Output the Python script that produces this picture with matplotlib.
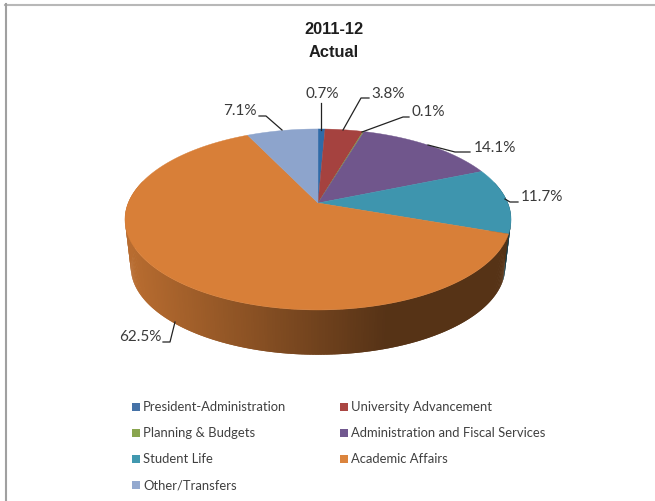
import numpy as np
import matplotlib
matplotlib.use("Agg")
import matplotlib.pyplot as plt
from matplotlib.colors import to_rgb

# categories and shares of the 2011-12 budget, clockwise from 12 o'clock
categories = ["President-Administration", "University Advancement", "Planning & Budgets",
              "Administration and Fiscal Services", "Student Life", "Academic Affairs",
              "Other/Transfers"]
shares = [0.7, 3.8, 0.1, 14.1, 11.7, 62.5, 7.1]
face_colors = ["#2F6BA8", "#A5423F", "#84A24A", "#70568C", "#3E95AE", "#D87F38", "#8DA4CC"]
legend_colors = ["#4572A7", "#AA4643", "#89A54E", "#71588F", "#4198AF", "#DB843D", "#93A9CF"]

# perspective disc: apex position, radii and foreshortening
CX, CY = 318, 203
RX, RY = 189.8, 87.5
K = -0.182
DROP, BOTTOM_SCALE = 48, 0.97

LABEL_FONT = ["Lato", "DejaVu Sans"]
TITLE_FONT = ["Liberation Sans", "DejaVu Sans"]


def rim(theta, scale=1.0, dy=0.0):
    u, v = np.sin(theta), -np.cos(theta)
    w = 1 + K * v
    return CX + scale * RX * u / w, CY + dy + scale * RY * v / w


def wall_shade(x):
    return np.interp(x, [130, 385], [0.85, 0.40])


fig = plt.figure(figsize=(6.55, 5.01), dpi=100)
ax = fig.add_axes([0, 0, 1, 1])
ax.set_xlim(0, 655)
ax.set_ylim(501, 0)
ax.axis("off")

# outer frame, only top and left edges show
ax.plot([5, 655], [4.5, 4.5], color="#B8B8B8", lw=1.5)
ax.plot([5.5, 5.5], [4, 501], color="#A0A0A0", lw=1.5)

edges = np.radians(np.cumsum([0] + shares) * 3.6)

# side wall in thin facets; each one runs under the next so no seams show
for i, color in enumerate(face_colors):
    base = np.array(to_rgb(color))
    step = np.radians(0.7)
    n = max(2, int((edges[i + 1] - edges[i]) / step))
    t = np.linspace(edges[i], edges[i + 1], n + 1)
    for a, b in zip(t[:-1], t[1:]):
        if np.cos((a + b) / 2) > 0.25:
            continue
        far = min(b + step, edges[i + 1])
        xa, ya = rim(a)
        xb, yb = rim(far)
        xc, yc = rim(far, BOTTOM_SCALE, DROP)
        xd, yd = rim(a, BOTTOM_SCALE, DROP)
        c = base * wall_shade((xa + xb) / 2)
        ax.fill([xa, xb, xc, xd], [ya, yb, yc, yd], color=c, lw=0, zorder=2)

# top face
for i, color in enumerate(face_colors):
    t = np.linspace(edges[i], edges[i + 1], max(3, int(shares[i] * 6)))
    x, y = rim(t)
    ax.fill(np.r_[CX, x], np.r_[CY, y], color=color, lw=0.3, zorder=3)

# value labels and leader lines
label_pos = [(322, 94, "center"), (371, 94, "left"), (411, 112, "left"), (474, 148, "left"),
             (521, 197, "left"), (257, 111, "right"), (161, 337, "right")]
leaders = [
    [(320.5, 103), (320.5, 130)],
    [(369, 98), (361, 98), (343, 130)],
    [(409, 117), (403, 117), (362, 132)],
    [(470, 152), (455, 152), (428, 145)],
    [(518, 202), (510, 202), (505, 199)],
    [(259, 116), (266, 116), (282, 130)],
    [(163, 342), (170, 342), (175, 322)],
]
order = [0, 1, 2, 3, 4, 6, 5]
for idx, (lx, ly, ha), line in zip(order, label_pos, leaders):
    ax.text(lx, ly, f"{shares[idx]}%", ha=ha, va="center", fontsize=11,
            family=LABEL_FONT, color="#3A3A3A", zorder=5)
    px, py = zip(*line)
    ax.plot(px, py, color="#222222", lw=0.9, zorder=4)

# title
ax.text(334, 29, "2011-12", ha="center", va="center", fontsize=11.8, fontweight="bold",
        family=TITLE_FONT, color="#1E1E1E")
ax.text(334, 52, "Actual", ha="center", va="center", fontsize=11.8, fontweight="bold",
        family=TITLE_FONT, color="#1E1E1E")

# legend, filled row by row in two columns
rows = [407, 433, 459, 485]
for i, name in enumerate(categories):
    col = i % 2
    sx = 132 if col == 0 else 340
    ty = rows[i // 2]
    ax.fill([sx, sx + 8, sx + 8, sx], [ty - 4, ty - 4, ty + 4, ty + 4],
            color=legend_colors[i], lw=0)
    ax.text(sx + 11, ty, name, ha="left", va="center", fontsize=9.4,
            family=LABEL_FONT, color="#404040")

fig.savefig("out.png", dpi=100)
